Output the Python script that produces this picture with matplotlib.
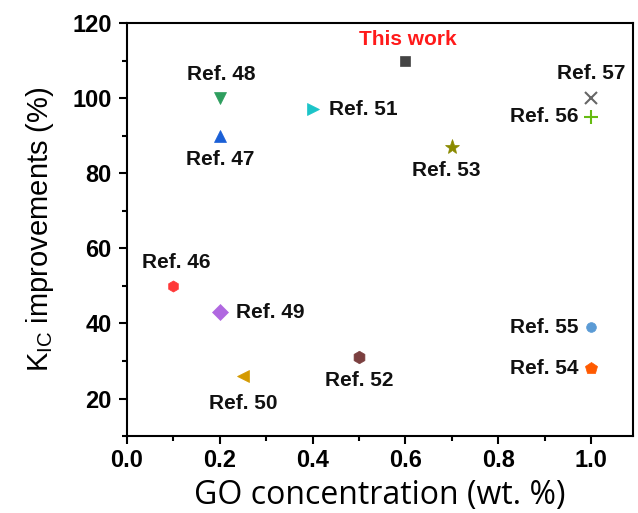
import matplotlib
matplotlib.use("Agg")
import matplotlib.pyplot as plt
from matplotlib.ticker import MultipleLocator

labels = ["This work", "Ref. 46", "Ref. 47", "Ref. 48", "Ref. 49", "Ref. 50", "Ref. 51",
          "Ref. 52", "Ref. 53", "Ref. 54", "Ref. 55", "Ref. 56", "Ref. 57"]
go_conc = [0.6, 0.1, 0.2, 0.2, 0.2, 0.25, 0.4, 0.5, 0.7, 1.0, 1.0, 1.0, 1.0]
kic_impr = [110, 50, 90, 100, 43, 26, 97, 31, 87, 28, 39, 95, 100]

markers = ["s", "h", "^", "v", "D", "<", ">", "h", "*", "p", "o", "+", "x"]
colors = ["#444444", "#ff3838", "#1a5fd6", "#2e9e5e", "#b068e0", "#d49a00", "#1bc4c8",
          "#7b3f3f", "#8a8a00", "#ff5a00", "#5b9bd5", "#66bb11", "#666666"]
sizes = [7, 8, 9, 9, 8, 9, 9, 9, 11, 9, 7, 10, 9]
# label offsets in points (dx, dy) and alignment
offsets = [(2, 15), (2, 17), (0, -17), (1, 17), (12, 0), (0, -20), (12, 0),
           (0, -17), (-4, -17), (-9, 0), (-9, 0), (-9, 0), (0, 18)]
ha = ["center", "center", "center", "center", "left", "center", "left",
      "center", "center", "right", "right", "right", "center"]

fig = plt.figure(figsize=(6.38, 5.13), dpi=100)
ax = fig.add_axes([0.199, 0.150, 0.793, 0.805])

for x, y, m, c, s in zip(go_conc, kic_impr, markers, colors, sizes):
    mew = 1.5 if m in ("+", "x") else 0.5
    ax.plot([x], [y], marker=m, color=c, markersize=s, markeredgewidth=mew,
            markeredgecolor=c, linestyle="none", zorder=3)

for lab, x, y, off, h in zip(labels, go_conc, kic_impr, offsets, ha):
    col = "#ff1a1a" if lab == "This work" else "#111111"
    ax.annotate(lab, (x, y), xytext=off, textcoords="offset points",
                ha=h, va="center", fontsize=15, fontweight="bold", color=col,
                family="Liberation Sans")

ax.set_xlim(0, 1.09)
ax.set_ylim(10, 120)
ax.xaxis.set_minor_locator(MultipleLocator(0.1))
ax.yaxis.set_minor_locator(MultipleLocator(10))
ax.set_yticks([20, 40, 60, 80, 100, 120])
ax.set_xticks([0.0, 0.2, 0.4, 0.6, 0.8, 1.0])
ax.set_xticklabels(["0.0", "0.2", "0.4", "0.6", "0.8", "1.0"])

for sp in ax.spines.values():
    sp.set_linewidth(1.5)
ax.tick_params(which="major", direction="out", length=6, width=1.5, top=False, right=False)
ax.tick_params(axis="y", which="major", pad=5)
ax.tick_params(which="minor", direction="out", length=3.5, width=1.5, top=False, right=False)
for t in ax.get_xticklabels() + ax.get_yticklabels():
    t.set_fontfamily("Liberation Sans")
    t.set_fontweight("bold")
    t.set_fontsize(17)

ax.set_xlabel("GO concentration (wt. %)", fontsize=23, family="Open Sans", labelpad=5)
ax.set_ylabel(r"K$_{\mathregular{IC}}$ improvements (%)", fontsize=21,
              family="Liberation Sans", labelpad=12)

fig.savefig("out.png", dpi=100)
